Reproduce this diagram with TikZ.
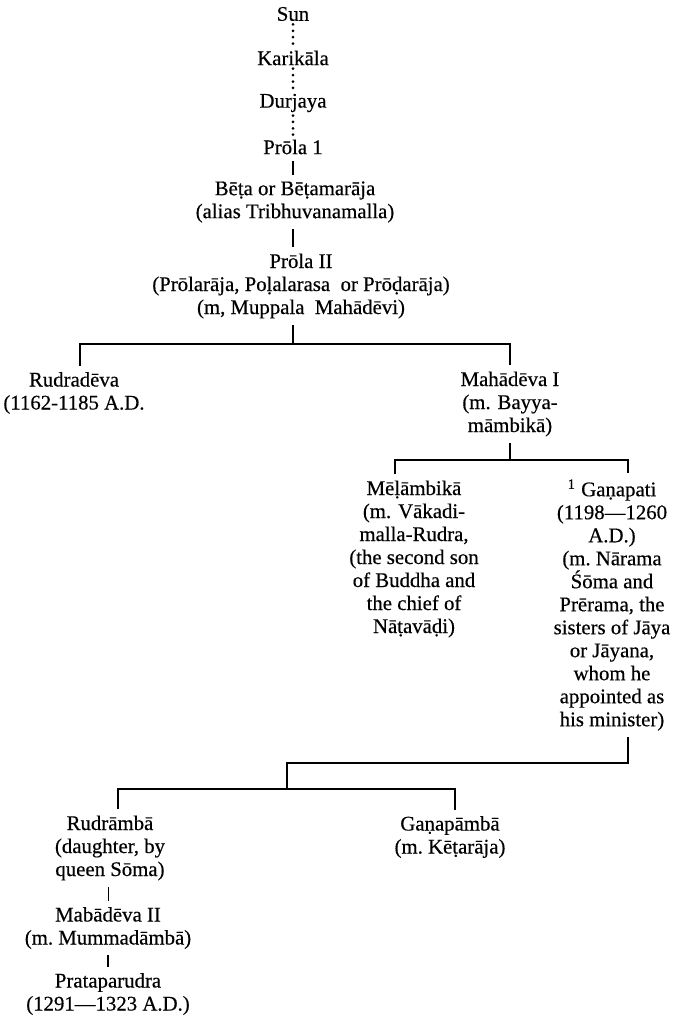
\documentclass[tikz,border=0pt]{standalone}
\usepackage{fontspec}
\setmainfont{Liberation Serif}[FakeBold=0.4]
\usepackage{tikz}
\usetikzlibrary{positioning}

\begin{document}
\begin{tikzpicture}[x=0.5pt, y=-0.5pt,
	every node/.style={align=center, inner sep=3pt, font=\fontsize{10.4}{11.5}\selectfont},
	link/.style={line width=0.6pt},
	dots/.style={line width=1.5pt, line cap=round, dash pattern=on 0pt off 3.2pt, shorten <=-1.5pt, shorten >=-1.5pt}]
	\useasboundingbox (0,0) rectangle (677,1021);

	% top of the line
	\node (sun) at (293,14) {Sun};
	\node (karikala) at (293,58) {Karikāla};
	\node (durjaya) at (293,103) {Durjaya};
	\node (prolaI) at (293,147) {Prōla 1};
	\node (beta) at (295,202) {Bēṭa or Bēṭamarāja\\(alias Tribhuvanamalla)};
	\node (prolaII) at (301,286) {Prōla II\\(Prōlarāja, Poḷalarasa\ \ or Prōḍarāja)\\(m, Muppala\ \ Mahādēvi)};

	% children
	\node (rudradeva) at (74,393) {Rudradēva\\(1162-1185 A.D.};
	\node (mahadevaI) at (510,404) {Mahādēva I\\(m. Bayya-\\māmbikā)};
	\node (melambika) at (414,559) {Mēḷāmbikā\\(m. Vākadi-\\malla-Rudra,\\(the second son\\of Buddha and\\the chief of\\Nāṭavāḍi)};
	\node (ganapati) at (612,605) {\textsuperscript{1} Gaṇapati\\(1198—1260\\A.D.)\\(m.\ Nārama\\Śōma and\\Prērama, the\\sisters of Jāya\\or\ Jāyana,\\whom he\\appointed as\\his\ minister)};
	\node (rudramba) at (110,848) {Rudrāmbā\\(daughter,\ by\\queen Sōma)};
	\node (ganapamba) at (450,837) {Gaṇapāmbā\\(m.\ Kēṭarāja)};
	\node (mahadevaII) at (108,928) {Mabādēva II\\(m.\ Mummadāmbā)};
	\node (prataparudra) at (108,994) {Prataparudra\\(1291—1323 A.D.)};

	% junctions
	\coordinate (barA) at (293,344);
	\coordinate (barAl) at (80,344);
	\coordinate (barB) at (510,460);
	\coordinate (barBl) at (395,460);
	\coordinate (barBr) at (628,460);
	\coordinate (barC) at (628,763);
	\coordinate (barCl) at (287,763);
	\coordinate (barDl) at (118,789);
	\coordinate (barDr) at (455,789);

	\draw[dots] (sun) -- (karikala);
	\draw[dots] (karikala) -- (durjaya);
	\draw[dots] (durjaya) -- (prolaI);
	\draw[link] (prolaI) -- (beta.north -| prolaI);
	\draw[link] (beta.south -| prolaI) -- (prolaII.north -| prolaI);

	\draw[link] (prolaII.south -| barA) -- (barA);
	\draw[link] (rudradeva.north -| barAl) -- (barAl) -- (mahadevaI.north |- barA) -- (mahadevaI.north);

	\draw[link] (mahadevaI.south) -- (barB);
	\draw[link] (melambika.north -| barBl) -- (barBl) -- (barBr) -- (ganapati.north -| barBr);

	\draw[link] (ganapati.south -| barC) -- (barC) -- (barCl) -- (barCl |- barDl);
	\draw[link] (rudramba.north -| barDl) -- (barDl) -- (barDr) -- (ganapamba.north -| barDr);

	\draw[link, line width=0.4pt] (rudramba.south -| mahadevaII) -- (mahadevaII);
	\draw[link] (mahadevaII) -- (prataparudra);
\end{tikzpicture}
\end{document}
